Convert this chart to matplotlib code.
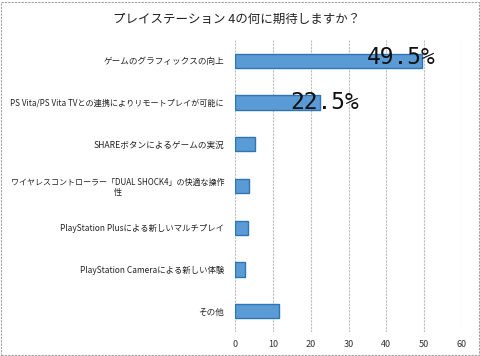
import matplotlib
matplotlib.use("Agg")
import matplotlib.pyplot as plt
from matplotlib.patches import Rectangle

plt.rcParams['font.family'] = ['Noto Sans CJK JP', 'DejaVu Sans']

title = "プレイステーション 4の何に期待しますか？"
categories = [
    "ゲームのグラフィックスの向上",
    "PS Vita/PS Vita TVとの連携によりリモートプレイが可能に",
    "SHAREボタンによるゲームの実況",
    "ワイヤレスコントローラー「DUAL SHOCK4」の快適な操作\n性",
    "PlayStation Plusによる新しいマルチプレイ",
    "PlayStation Cameraによる新しい体験",
    "その他",
]
values = [49.5, 22.5, 5.3, 3.7, 3.5, 2.6, 11.5]
labels = ["49.5%", "22.5%", None, None, None, None, None]
xticks = [0, 10, 20, 30, 40, 50, 60]

# style: per-label font sizes and value-label offsets (points)
label_sizes = [6.2, 5.85, 6.2, 5.8, 6.0, 6.0, 6.2]
label_offsets = [(-15, 2), (3, 0)]

fig = plt.figure(figsize=(4.8, 3.56), dpi=100)
ax = fig.add_axes([0.49, 0.0674, 0.4725, 0.8206])

ypos = list(range(len(categories)))
ax.barh(ypos, values, height=0.34, color='#5b9bd5', edgecolor='#2e75b6', linewidth=1.0, zorder=3)
ax.set_ylim(len(categories) - 0.5, -0.5)
ax.set_xlim(0, 60)
ax.set_yticks(ypos)
ax.set_yticklabels(categories, color='#222222', multialignment='center')
for t, fs in zip(ax.get_yticklabels(), label_sizes):
    t.set_fontsize(fs)
ax.set_xticks(xticks)
ax.set_xticklabels([str(t) for t in xticks], fontsize=6.5, color='#333333')
ax.tick_params(axis='both', length=0)
ax.tick_params(axis='y', pad=8)
ax.tick_params(axis='x', pad=6)
for s in ax.spines.values():
    s.set_visible(False)
ax.grid(axis='x', color='#bdbdbd', linestyle=(0, (2, 1)), linewidth=0.8, zorder=0)
ax.set_axisbelow(True)

for i, (v, lab) in enumerate(zip(values, labels)):
    if lab is None:
        continue
    dx, dy = label_offsets[i]
    ax.annotate(lab, xy=(v, i), xytext=(dx, dy), textcoords='offset points',
                ha='center', va='center', fontsize=16.5, family='DejaVu Sans Mono',
                color='#111111', zorder=5)

fig.text(0.494, 0.946, title, ha='center', va='center', fontsize=9, color='#222222')

fig.patches.append(Rectangle((0.003, 0.004), 0.994, 0.99, transform=fig.transFigure,
                             fill=False, edgecolor='#a0a0a0', linestyle=(0, (2, 1)), linewidth=0.8))

fig.savefig("out.png", dpi=100)
